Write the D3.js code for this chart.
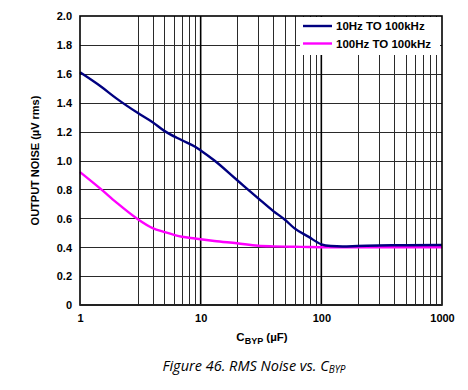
<!DOCTYPE html>
<html>
<head>
<meta charset="utf-8">
<script src="https://cdn.jsdelivr.net/npm/d3@7"></script>
<style>
  body { margin: 0; background: #fff; }
  svg { display: block; }
  text { font-family: "Liberation Sans", Arial, sans-serif; }
  .tick-label { font-size: 11px; font-weight: bold; fill: #000; }
  .legend-label { font-size: 11.5px; font-weight: bold; fill: #000; }
  .caption { font-family: "Open Sans", "Liberation Sans", sans-serif; font-style: italic; font-size: 14.5px; fill: #000; }
</style>
</head>
<body>
<div id="chart"></div>
<script>
// ---------- DATA ---------- //
var cByp      = [1, 1.5, 2, 3, 4, 5, 7, 9, 10, 13, 20, 30, 40, 50, 60, 78, 100, 120, 150, 200, 300, 500, 1000];
var noise10Hz = [1.61, 1.51, 1.43, 1.33, 1.265, 1.205, 1.14, 1.095, 1.07, 1.00, 0.865, 0.738, 0.65, 0.59, 0.53, 0.473, 0.42, 0.408, 0.405, 0.408, 0.412, 0.414, 0.415];
var noise100Hz = [0.92, 0.80, 0.71, 0.595, 0.532, 0.505, 0.472, 0.46, 0.455, 0.443, 0.427, 0.41, 0.406, 0.404, 0.403, 0.401, 0.40, 0.40, 0.40, 0.40, 0.40, 0.40, 0.40];
var seriesNames = ["10Hz TO 100kHz", "100Hz TO 100kHz"];
var seriesColors = ["#000080", "#ff00ff"];
var xTickValues = [1, 10, 100, 1000];
var yTickValues = [0, 0.2, 0.4, 0.6, 0.8, 1.0, 1.2, 1.4, 1.6, 1.8, 2.0];

// ---------- LAYOUT ---------- //
var width = 468, height = 390;
var margin = {top: 16, right: 26, bottom: 85, left: 80};
var plotW = width - margin.left - margin.right,
    plotH = height - margin.top - margin.bottom;

var svg = d3.select("#chart").append("svg")
  .attr("width", width)
  .attr("height", height);

var g = svg.append("g")
  .attr("transform", "translate(" + margin.left + "," + margin.top + ")");

// scales
var x = d3.scaleLog().domain([1, 1000]).range([0, plotW]);
var y = d3.scaleLinear().domain([0, 2]).range([plotH, 0]);

// ---------- GRID ---------- //
// the original has no gridline at 2 in the first decade
var minorX = x.ticks().filter(d => d !== 2 && xTickValues.indexOf(d) < 0);

g.append("g").selectAll("line")
  .data(yTickValues.slice(1, -1))
  .enter().append("line")
  .attr("x1", 0).attr("x2", plotW)
  .attr("y1", d => Math.round(y(d)) + 0.5)
  .attr("y2", d => Math.round(y(d)) + 0.5)
  .attr("stroke", "#2a2a2a")
  .attr("stroke-width", 1);

g.append("g").selectAll("line")
  .data(minorX)
  .enter().append("line")
  .attr("x1", d => Math.round(x(d)) + 0.5)
  .attr("x2", d => Math.round(x(d)) + 0.5)
  .attr("y1", 0).attr("y2", plotH)
  .attr("stroke", "#2a2a2a")
  .attr("stroke-width", 1);

g.append("g").selectAll("line")
  .data(xTickValues.slice(1, -1))
  .enter().append("line")
  .attr("x1", d => x(d)).attr("x2", d => x(d))
  .attr("y1", 0).attr("y2", plotH)
  .attr("stroke", "#000")
  .attr("stroke-width", 1.6);

// ---------- LINES ---------- //
var line = d3.line()
  .x(d => x(d[0]))
  .y(d => y(d[1]))
  .curve(d3.curveMonotoneX);

[noise100Hz, noise10Hz].forEach(function (vals) {
  var i = vals === noise10Hz ? 0 : 1;
  g.append("path")
    .datum(cByp.map((c, k) => [c, vals[k]]))
    .attr("fill", "none")
    .attr("stroke", seriesColors[i])
    .attr("stroke-width", 2.4)
    .attr("stroke-linejoin", "round")
    .attr("d", line);
});

// ---------- LEGEND ---------- //
var legend = g.append("g");
legend.append("rect")
  .attr("x", plotW - 142).attr("y", 1)
  .attr("width", 140).attr("height", 38)
  .attr("fill", "#fff");

seriesNames.forEach(function (name, i) {
  var ly = 10 + i * 17.5;
  legend.append("line")
    .attr("x1", plotW - 139).attr("x2", plotW - 110)
    .attr("y1", ly).attr("y2", ly)
    .attr("stroke", seriesColors[i])
    .attr("stroke-width", 2.4);
  legend.append("text")
    .attr("class", "legend-label")
    .attr("x", plotW - 106).attr("y", ly + 4)
    .text(name);
});

// ---------- FRAME ---------- //
g.append("rect")
  .attr("x", 0).attr("y", 0)
  .attr("width", plotW).attr("height", plotH)
  .attr("fill", "none")
  .attr("stroke", "#000")
  .attr("stroke-width", 1.6);

g.append("line")
  .attr("x1", 0).attr("x2", plotW)
  .attr("y1", plotH).attr("y2", plotH)
  .attr("stroke", "#222")
  .attr("stroke-width", 2.2);

// ---------- AXES ---------- //
var yAxis = d3.axisLeft(y)
  .tickValues(yTickValues)
  .tickSize(0)
  .tickPadding(8)
  .tickFormat(d => d === 0 ? "0" : d3.format(".1f")(d));

g.append("g").call(yAxis)
  .call(a => a.select(".domain").remove())
  .selectAll("text")
  .attr("class", "tick-label")
  .attr("dy", "0.35em");

var xAxis = d3.axisBottom(x)
  .tickValues(xTickValues)
  .tickSize(0)
  .tickPadding(9)
  .tickFormat(d3.format("d"));

g.append("g")
  .attr("transform", "translate(0," + plotH + ")")
  .call(xAxis)
  .call(a => a.select(".domain").remove())
  .selectAll("text")
  .attr("class", "tick-label");

// axis titles
var xt = svg.append("text")
  .attr("class", "legend-label")
  .attr("x", 262).attr("y", 341)
  .attr("text-anchor", "middle");
xt.append("tspan").text("C");
xt.append("tspan").attr("font-size", "9px").attr("dy", 3).text("BYP");
xt.append("tspan").attr("dy", -3).text(" (\u00b5F)");

svg.append("text")
  .attr("class", "tick-label")
  .attr("transform", "translate(39," + (margin.top + plotH / 2) + ") rotate(-90)")
  .attr("text-anchor", "middle")
  .text("OUTPUT NOISE (\u00b5V rms)");

// caption
var cap = svg.append("text")
  .attr("class", "caption")
  .attr("x", 254).attr("y", 371)
  .attr("text-anchor", "middle");
cap.append("tspan").text("Figure 46. RMS Noise vs. C");
cap.append("tspan").attr("font-size", "10px").attr("dy", 2).text("BYP");
</script>
</body>
</html>
